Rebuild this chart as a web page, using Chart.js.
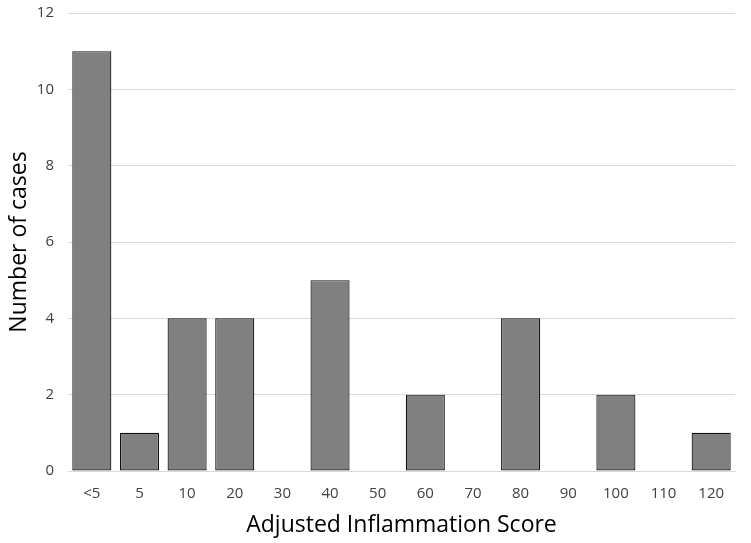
<!DOCTYPE html>
<html>
<head>
<meta charset="utf-8">
<script src="https://cdn.jsdelivr.net/npm/chart.js@4/dist/chart.umd.min.js"></script>
<style>
  html, body { margin: 0; padding: 0; background: #fff; }
  #wrap { width: 751px; height: 543px; }
</style>
</head>
<body>
<div id="wrap"><canvas id="chart"></canvas></div>
<script>
// Score bins and case counts
const scoreBins = ['<5', '5', '10', '20', '30', '40', '50', '60', '70', '80', '90', '100', '110', '120'];
const caseCounts = [11, 1, 4, 4, 0, 5, 0, 2, 0, 4, 0, 2, 0, 1];
const yTicks = [0, 2, 4, 6, 8, 10, 12];

const FONT = "'Open Sans', 'Liberation Sans', sans-serif";

new Chart(document.getElementById('chart'), {
  type: 'bar',
  data: {
    labels: scoreBins,
    datasets: [{
      data: caseCounts,
      backgroundColor: '#808080',
      borderColor: '#111',
      borderWidth: 1.2,
      borderSkipped: false,
      categoryPercentage: 0.82,
      barPercentage: 1.0
    }]
  },
  options: {
    responsive: true,
    maintainAspectRatio: false,
    animation: false,
    layout: { autoPadding: false, padding: { top: 13, right: 16, left: 0, bottom: 0 } },
    plugins: {
      legend: { display: false },
      tooltip: { enabled: false }
    },
    scales: {
      x: {
        grid: { display: false, drawTicks: false },
        border: { display: true, color: '#d9d9d9' },
        ticks: {
          color: '#404040',
          font: { family: FONT, size: 15 },
          padding: 14,
          maxRotation: 0,
          autoSkip: false
        },
        title: {
          display: true,
          text: 'Adjusted Inflammation Score',
          color: '#000',
          font: { family: FONT, size: 23 },
          padding: { top: 4, bottom: 4 }
        },
        afterFit(scale) { scale.height = 72; }
      },
      y: {
        min: 0,
        max: 12,
        afterBuildTicks(scale) { scale.ticks = yTicks.map(v => ({ value: v })); },
        grid: { color: '#d9d9d9', drawTicks: false },
        border: { display: false },
        ticks: {
          color: '#404040',
          font: { family: FONT, size: 15 },
          padding: 14
        },
        title: {
          display: true,
          text: 'Number of cases',
          color: '#000',
          font: { family: FONT, size: 23 },
          padding: { top: 6, bottom: 0 }
        },
        afterFit(scale) {
          scale.width = 68;
          scale.paddingTop = 0;
        }
      }
    }
  }
});
</script>
</body>
</html>
